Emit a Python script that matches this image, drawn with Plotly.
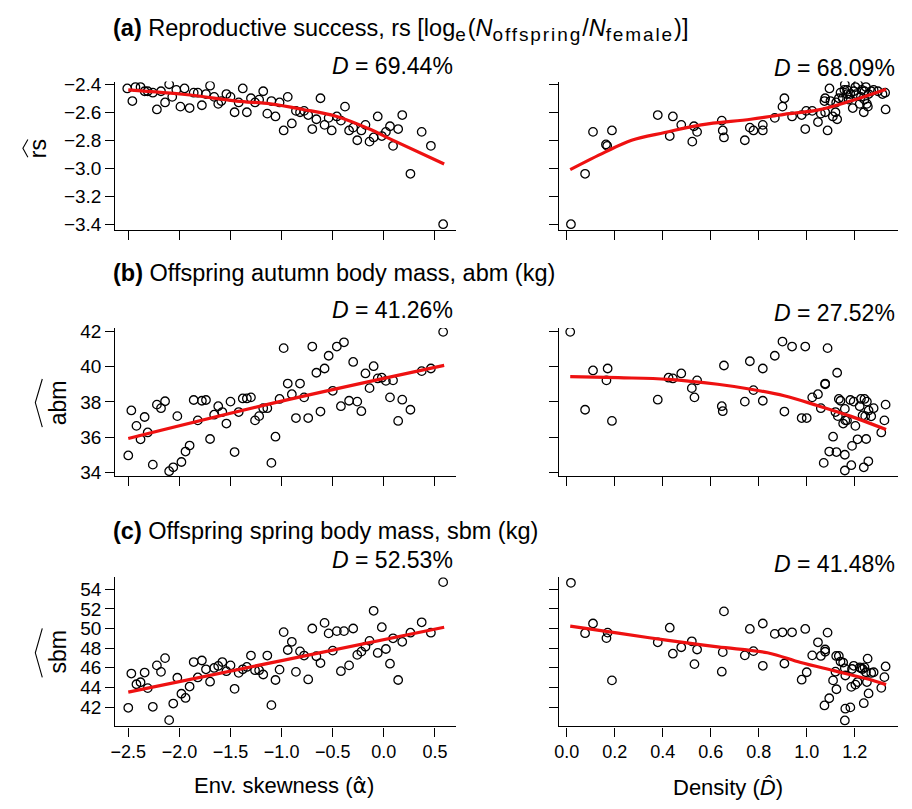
import plotly.graph_objects as go

# ---------------- data ----------------
# Row (a): reproductive success vs env. skewness (alpha) and density (D)
rs_alpha_x = [-2.51,-2.46,-2.43,-2.38,-2.34,-2.31,-2.26,-2.22,-2.18,-2.14,-2.10,-2.07,-2.03,-1.99,-1.95,-1.90,-1.86,-1.82,
              -1.78,-1.74,-1.70,-1.66,-1.62,-1.59,-1.54,-1.50,-1.46,-1.42,-1.38,-1.34,-1.30,-1.26,-1.22,-1.18,-1.14,-1.10,
              -1.06,-1.02,-0.98,-0.94,-0.90,-0.86,-0.82,-0.78,-0.74,-0.70,-0.66,-0.62,-0.58,-0.54,-0.51,-0.46,-0.42,-0.38,
              -0.34,-0.30,-0.26,-0.22,-0.18,-0.14,-0.10,-0.06,-0.02,0.02,0.06,0.09,0.14,0.18,0.26,0.37,0.46,0.58]
rs_alpha_y = [-2.43,-2.52,-2.42,-2.42,-2.45,-2.45,-2.46,-2.58,-2.45,-2.53,-2.40,-2.49,-2.44,-2.56,-2.43,-2.57,-2.46,-2.46,
              -2.55,-2.47,-2.41,-2.49,-2.54,-2.52,-2.47,-2.49,-2.60,-2.53,-2.43,-2.60,-2.50,-2.53,-2.51,-2.45,-2.61,-2.52,
              -2.63,-2.53,-2.73,-2.49,-2.68,-2.59,-2.60,-2.59,-2.62,-2.72,-2.65,-2.50,-2.69,-2.64,-2.73,-2.63,-2.66,-2.56,
              -2.73,-2.71,-2.80,-2.73,-2.69,-2.81,-2.78,-2.63,-2.77,-2.74,-2.70,-2.84,-2.72,-2.62,-3.04,-2.74,-2.84,-3.40]
rs_alpha_fit_x = [-2.50,-1.92,-1.44,-1.11,-0.79,-0.46,-0.14,0.06,0.59]
rs_alpha_fit_y = [-2.44,-2.475,-2.52,-2.54,-2.58,-2.63,-2.72,-2.79,-2.97]

rs_dens_x = [0.017,0.076,0.109,0.163,0.168,0.188,0.379,0.429,0.442,0.477,0.530,0.523,0.543,0.646,0.650,0.655,0.742,0.763,
             0.778,0.817,0.817,0.867,0.899,0.907,0.939,0.979,0.994,0.998,1.023,1.047,1.059,1.077,1.087,1.074,1.077,1.095,
             1.109,1.120,1.127,1.123,1.134,1.141,1.150,1.159,1.157,1.168,1.175,1.182,1.192,1.196,1.203,1.214,1.221,1.226,
             1.238,1.241,1.247,1.251,1.255,1.258,1.269,1.279,1.297,1.316,1.327,1.329,1.241,1.230,1.168,1.206,1.099]
rs_dens_y = [-3.40,-3.04,-2.74,-2.83,-2.84,-2.73,-2.62,-2.77,-2.63,-2.69,-2.70,-2.81,-2.74,-2.66,-2.73,-2.78,-2.80,-2.71,
             -2.73,-2.69,-2.73,-2.64,-2.56,-2.50,-2.63,-2.62,-2.72,-2.59,-2.59,-2.67,-2.61,-2.60,-2.73,-2.52,-2.50,-2.43,
             -2.63,-2.60,-2.65,-2.53,-2.50,-2.46,-2.50,-2.40,-2.44,-2.47,-2.51,-2.47,-2.57,-2.45,-2.42,-2.40,-2.54,-2.49,
             -2.60,-2.51,-2.42,-2.54,-2.56,-2.47,-2.45,-2.44,-2.45,-2.47,-2.46,-2.58,-2.45,-2.44,-2.44,-2.47,-2.52]
rs_dens_fit_x = [0.014,0.159,0.27,0.408,0.56,0.767,0.906,1.044,1.182,1.331]
rs_dens_fit_y = [-3.01,-2.885,-2.80,-2.745,-2.69,-2.65,-2.615,-2.585,-2.52,-2.435]

# Row (b): autumn body mass
abm_alpha_x = [-2.50,-2.47,-2.42,-2.38,-2.34,-2.31,-2.26,-2.22,-2.18,-2.14,-2.10,-2.06,-2.02,-1.98,-1.94,-1.90,-1.86,-1.82,
               -1.78,-1.74,-1.70,-1.66,-1.62,-1.58,-1.54,-1.50,-1.46,-1.42,-1.38,-1.34,-1.30,-1.26,-1.22,-1.18,-1.14,-1.10,
               -1.06,-1.02,-0.98,-0.94,-0.90,-0.86,-0.82,-0.78,-0.74,-0.70,-0.66,-0.62,-0.58,-0.54,-0.50,-0.46,-0.42,-0.39,
               -0.34,-0.30,-0.26,-0.22,-0.18,-0.14,-0.10,-0.06,-0.02,0.02,0.06,0.09,0.14,0.18,0.26,0.37,0.46,0.58]
abm_alpha_y = [34.98,37.52,36.65,35.89,37.15,36.28,34.46,37.85,37.65,38.04,34.09,34.31,37.20,34.61,35.20,35.54,38.11,36.96,
               38.07,38.11,35.91,37.28,37.76,37.43,36.78,38.02,35.17,37.43,38.20,38.20,38.26,36.96,37.20,37.65,37.65,34.56,
               36.04,38.17,41.04,39.04,38.44,37.09,39.04,38.26,37.09,41.13,39.65,37.46,39.89,40.61,38.63,41.13,37.76,41.37,
               38.07,40.26,38.02,37.48,39.61,38.78,40.02,39.33,39.37,39.19,38.26,39.22,36.93,38.13,37.56,39.74,39.89,41.96]
abm_alpha_fit_x = [-2.50,-1.00,0.59]
abm_alpha_fit_y = [35.94,38.05,40.07]

abm_dens_x = [0.014,0.076,0.109,0.165,0.170,0.188,0.379,0.424,0.442,0.477,0.521,0.532,0.543,0.646,0.650,0.655,0.742,0.763,
              0.778,0.817,0.817,0.867,0.899,0.907,0.939,0.979,0.994,1.000,1.023,1.047,1.059,1.077,1.077,1.087,1.110,1.071,
              1.094,1.124,1.127,1.120,1.130,1.134,1.141,1.152,1.159,1.159,1.161,1.159,1.168,1.182,1.186,1.189,1.196,1.203,
              1.212,1.221,1.226,1.233,1.238,1.241,1.244,1.248,1.251,1.257,1.258,1.269,1.279,1.311,1.324,1.329]
abm_dens_y = [41.96,37.56,39.78,39.22,39.89,36.93,38.13,39.37,39.33,39.61,38.78,38.26,39.22,37.76,37.48,40.06,38.02,40.30,
              38.67,39.89,38.07,40.61,41.41,37.46,41.13,37.09,41.13,37.09,38.26,38.44,37.65,39.04,39.00,41.04,36.04,34.56,
              35.20,35.17,39.65,37.43,37.20,38.17,38.07,36.78,37.61,35.02,36.96,34.13,36.96,38.11,34.43,35.52,38.02,36.65,
              35.89,37.76,38.17,37.24,34.31,38.17,37.20,35.91,38.02,34.65,37.52,37.19,37.65,36.28,36.96,37.85]
abm_dens_fit_x = [0.014,0.214,0.422,0.629,0.767,0.906,1.044,1.182,1.331]
abm_dens_fit_y = [39.43,39.37,39.28,39.00,38.72,38.35,37.80,37.20,36.44]

# Row (c): spring body mass
sbm_alpha_x = abm_alpha_x
sbm_alpha_y = [41.93,45.42,44.33,44.53,45.52,43.93,42.03,46.25,45.59,46.99,40.67,42.36,44.99,43.36,42.93,44.09,46.59,45.02,
               46.75,45.85,44.59,45.99,46.19,46.59,45.66,46.25,43.86,45.49,45.85,46.09,47.25,45.76,45.76,45.32,47.25,42.20,
               44.76,45.82,49.64,47.82,48.65,45.59,47.68,47.25,44.82,50.01,47.18,46.49,50.58,49.51,47.75,49.74,45.66,49.74,
               46.25,50.01,47.32,47.65,48.15,48.75,51.81,47.52,50.14,47.92,46.42,49.01,44.76,48.65,49.58,50.64,49.58,54.73]
sbm_alpha_fit_x = [-2.50,-1.00,0.59]
sbm_alpha_fit_y = [43.53,46.74,50.14]

sbm_dens_x = [0.017,0.076,0.109,0.165,0.170,0.188,0.379,0.429,0.442,0.477,0.521,0.532,0.543,0.646,0.650,0.655,0.742,0.763,
              0.778,0.817,0.817,0.867,0.899,0.907,0.939,0.979,0.994,1.000,1.023,1.047,1.059,1.077,1.077,1.087,1.074,1.094,
              1.110,1.124,1.123,1.120,1.134,1.141,1.152,1.159,1.161,1.161,1.159,1.182,1.186,1.189,1.196,1.203,1.212,1.221,
              1.226,1.233,1.238,1.241,1.247,1.251,1.254,1.258,1.269,1.279,1.311,1.324,1.329]
sbm_dens_y = [54.66,49.53,50.52,49.03,49.59,44.72,48.60,50.09,47.44,48.10,48.70,46.38,47.87,45.61,47.60,51.75,47.27,49.96,
              47.70,50.52,46.21,49.46,49.62,46.44,49.62,44.79,49.96,45.55,47.27,48.60,47.21,47.87,47.64,49.59,42.17,42.90,
              44.72,43.82,47.21,45.61,47.21,46.64,46.54,45.95,45.22,41.84,40.64,41.97,44.06,45.88,46.21,44.29,44.55,46.05,
              45.95,45.88,42.40,46.05,45.55,44.55,46.94,43.39,45.48,45.55,43.96,45.05,46.14]
sbm_dens_fit_x = [0.014,0.214,0.422,0.629,0.836,0.975,1.113,1.251,1.331]
sbm_dens_fit_y = [50.25,49.53,48.80,48.13,47.54,46.54,45.71,44.88,44.29]

SUB = '<sub><span style="font-size:19px;letter-spacing:1.9px">{}</span></sub>'
panel_titles = ["<b>(a)</b> Reproductive success, rs [log" + SUB.format("e") + "(<i>N</i>" + SUB.format("offspring")
                + "/<i>N</i>" + SUB.format("female") + ")]",
                "<b>(b)</b> Offspring autumn body mass, abm (kg)",
                "<b>(c)</b> Offspring spring body mass, sbm (kg)"]
dev_explained = ["69.44%", "68.09%", "41.26%", "27.52%", "52.53%", "41.48%"]
y_titles = ["rs", "abm", "sbm"]
alpha_ticks = [-2.5, -2.0, -1.5, -1.0, -0.5, 0.0, 0.5]
dens_ticks = [0.0, 0.2, 0.4, 0.6, 0.8, 1.0, 1.2]
rs_ticks = [-2.4, -2.6, -2.8, -3.0, -3.2, -3.4]
abm_ticks = [42, 40, 38, 36, 34]
sbm_ticks = [54, 52, 50, 48, 46, 44, 42]

# ---------------- layout helpers (pixel geometry) ----------------
W, H = 912, 809
FONT = "Arial, Liberation Sans, sans-serif"
def px(x): return x / W
def py(y): return 1 - y / H

cols = [(111, 453), (557, 898)]
rows = [(75, 226), (326, 477), (580, 732)]
xranges = [[-2.626, 0.701], [-0.033, 1.381]]
yranges = [[-3.440, -2.381], [33.81, 42.18], [40.03, 55.23]]
ytickvals = [rs_ticks, abm_ticks, sbm_ticks]
yfmt = [".1f", "d", "d"]

series = [
    (rs_alpha_x, rs_alpha_y, rs_alpha_fit_x, rs_alpha_fit_y),
    (rs_dens_x, rs_dens_y, rs_dens_fit_x, rs_dens_fit_y),
    (abm_alpha_x, abm_alpha_y, abm_alpha_fit_x, abm_alpha_fit_y),
    (abm_dens_x, abm_dens_y, abm_dens_fit_x, abm_dens_fit_y),
    (sbm_alpha_x, sbm_alpha_y, sbm_alpha_fit_x, sbm_alpha_fit_y),
    (sbm_dens_x, sbm_dens_y, sbm_dens_fit_x, sbm_dens_fit_y),
]

fig = go.Figure()
layout = dict(width=W, height=H, margin=dict(l=0, r=0, t=0, b=0),
              paper_bgcolor="white", plot_bgcolor="white", showlegend=False,
              font=dict(family=FONT, color="black"))
annotations = []
shapes = []

for i, (sx, sy, fx, fy) in enumerate(series):
    r, c = divmod(i, 2)
    n = i + 1
    xa = "x" if n == 1 else f"x{n}"
    ya = "y" if n == 1 else f"y{n}"
    fig.add_trace(go.Scatter(x=sx, y=sy, mode="markers", xaxis=xa, yaxis=ya,
                             marker=dict(symbol="circle-open", size=8.5, color="black",
                                         line=dict(width=1.3, color="black"))))
    fig.add_trace(go.Scatter(x=fx, y=fy, mode="lines", xaxis=xa, yaxis=ya,
                             line=dict(color="#ee1111", width=3.2, shape="spline", smoothing=1.0)))
    axis_common = dict(showline=True, linecolor="black", linewidth=1.3, ticks="outside",
                       ticklen=9, tickwidth=1.3, tickcolor="black", showgrid=False,
                       zeroline=False, mirror=False)
    layout["xaxis" if n == 1 else f"xaxis{n}"] = dict(
        axis_common, domain=[px(cols[c][0]), px(cols[c][1])], range=xranges[c],
        anchor=ya, tickvals=alpha_ticks if c == 0 else dens_ticks, tickformat=".1f",
        showticklabels=(r == 2), tickfont=dict(size=18, family=FONT, color="black"))
    layout["yaxis" if n == 1 else f"yaxis{n}"] = dict(
        axis_common, domain=[py(rows[r][1]), py(rows[r][0])], range=yranges[r],
        anchor=xa, tickvals=ytickvals[r], tickformat=yfmt[r],
        showticklabels=(c == 0), tickfont=dict(size=19, family=FONT, color="black"))

# panel titles and D labels
title_y = [22, 270, 533]
dlab_y = [[59, 61], [308, 311], [562, 566]]
for r in range(3):
    annotations.append(dict(text=panel_titles[r], x=px(107), y=py(title_y[r]), xref="paper", yref="paper",
                            xanchor="left", yanchor="middle", showarrow=False,
                            font=dict(size=23.5, family=FONT, color="black")))
    for c in range(2):
        annotations.append(dict(text="<i>D</i> = " + dev_explained[2 * r + c],
                                x=px(452 if c == 0 else 897), y=py(dlab_y[r][c]),
                                xref="paper", yref="paper", xanchor="right", yanchor="middle",
                                showarrow=False, font=dict(size=23, family=FONT, color="black")))

# y-axis titles (rotated) with hats
yt_pos = [(34, 143), (53, 402), (53, 656)]
for r in range(3):
    annotations.append(dict(text=y_titles[r], x=px(yt_pos[r][0]), y=py(yt_pos[r][1]), xref="paper", yref="paper",
                            xanchor="center", yanchor="middle", textangle=-90, showarrow=False,
                            font=dict(size=23, family=FONT, color="black")))
# hats drawn beside the rotated titles
for (xo, xi, ytop, ymid, ybot) in [(23, 18, 134, 143, 152), (37.5, 30.5, 378, 402, 427), (37.5, 30.5, 632, 657, 682)]:
    shapes.append(dict(type="path", xref="paper", yref="paper",
                       path=f"M {px(xo)},{py(ytop)} L {px(xi)},{py(ymid)} L {px(xo)},{py(ybot)}",
                       line=dict(color="black", width=1.1)))

# x-axis titles
annotations.append(dict(text='Env. skewness (<span style="font-family:\'DejaVu Sans\'">α\u0302</span>)',
                        x=px(281), y=py(792), xref="paper", yref="paper",
                        xanchor="center", yanchor="middle", showarrow=False,
                        font=dict(size=22, family=FONT, color="black")))
annotations.append(dict(text="Density (<i>D\u0302</i>)", x=px(727), y=py(794), xref="paper", yref="paper",
                        xanchor="center", yanchor="middle", showarrow=False,
                        font=dict(size=22, family=FONT, color="black")))

layout["annotations"] = annotations
layout["shapes"] = shapes
fig.update_layout(**layout)
fig.write_html("out.html")
